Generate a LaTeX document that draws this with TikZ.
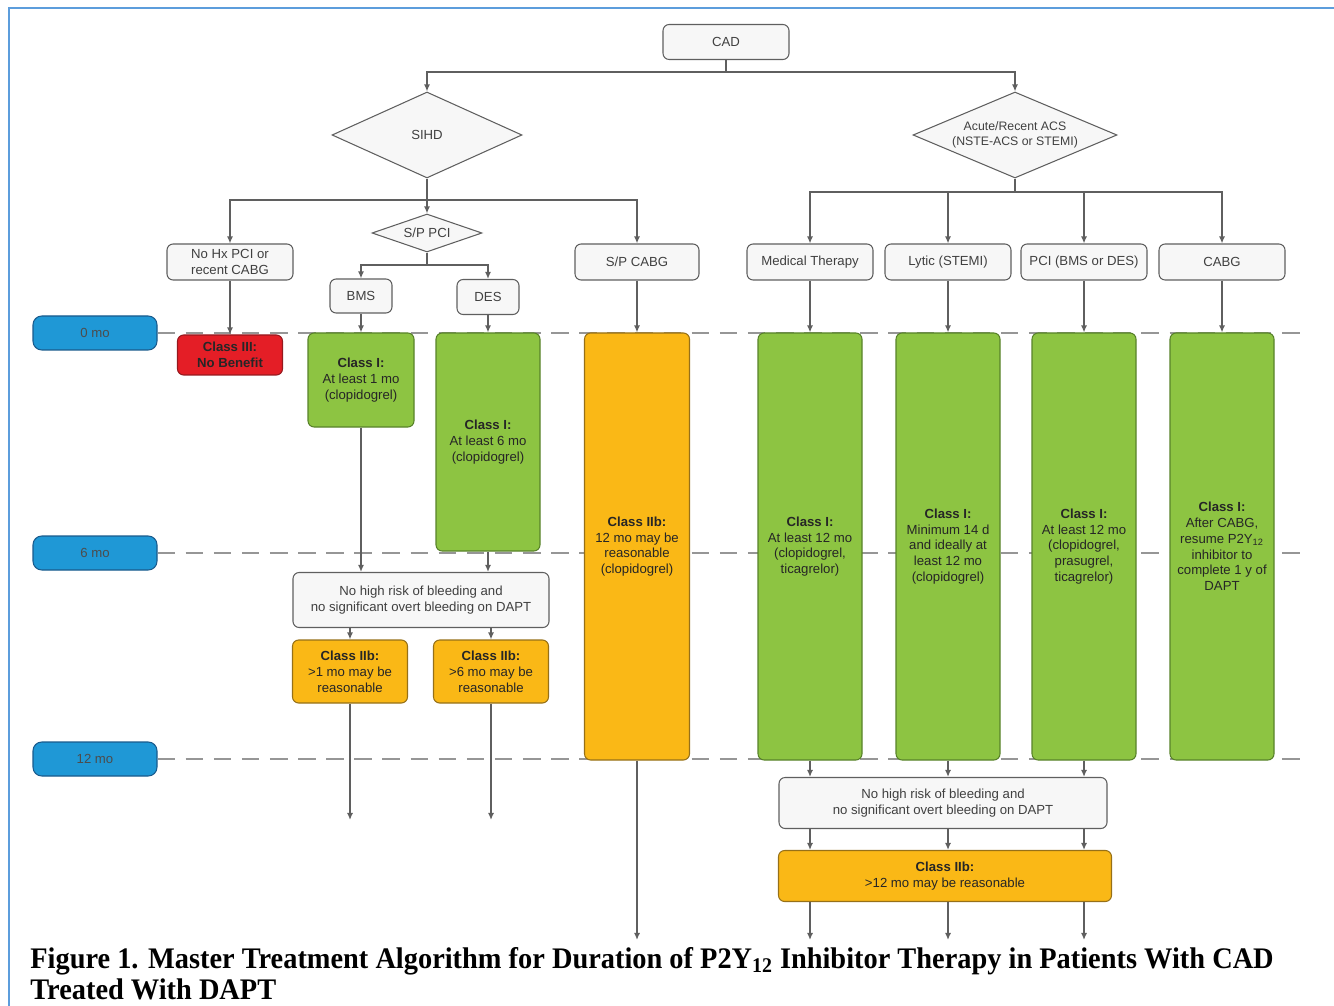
\documentclass[tikz,border=0pt]{standalone}
\usepackage{fontspec}
\setmainfont{Liberation Sans}
\newfontfamily\capfont[FakeStretch=0.95]{Liberation Serif}
\usetikzlibrary{arrows.meta,shapes.geometric,positioning}
\definecolor{boxgray}{RGB}{247,247,247}
\definecolor{edgegray}{RGB}{95,95,95}
\definecolor{classone}{RGB}{141,196,66}
\definecolor{classoneedge}{RGB}{88,130,42}
\definecolor{classtwob}{RGB}{250,184,22}
\definecolor{classtwobedge}{RGB}{150,112,24}
\definecolor{classthree}{RGB}{228,30,38}
\definecolor{classthreeedge}{RGB}{150,25,30}
\definecolor{timeblue}{RGB}{31,152,214}
\definecolor{timeedge}{RGB}{25,90,140}
\definecolor{frameblue}{RGB}{92,157,220}
\definecolor{dashgray}{RGB}{150,150,150}
\newcommand{\timerow}[3]{%
  \node[timebox] (#1) at (95,#2) {#3};%
  \draw[dashgray,line width=1.1pt,dash pattern=on 10pt off 6pt] (#1.east) -- (1310,#2);%
}

\begin{document}
\begin{tikzpicture}[x=0.02cm,y=-0.02cm,
  sz/.style 2 args={minimum width=#1*0.02cm,minimum height=#2*0.02cm},
  base/.style={rounded corners=3.5pt,align=center,inner sep=1pt,line width=0.6pt,
    font=\fontsize{7.5}{9}\selectfont},
  greybox/.style={base,draw=edgegray,fill=boxgray,text=black!75},
  decision/.style={diamond,draw=edgegray,fill=boxgray,text=black!75,align=center,
    inner sep=0pt,line width=0.6pt,font=\fontsize{7.5}{9}\selectfont},
  greenbox/.style={base,draw=classoneedge,fill=classone,text=black!85},
  yellowbox/.style={base,draw=classtwobedge,fill=classtwob,text=black!85},
  redbox/.style={base,draw=classthreeedge,fill=classthree,text=black!85},
  timebox/.style={base,draw=timeedge,fill=timeblue,text=black!70,sz={124}{34},rounded corners=5pt},
  link/.style={edgegray,line width=0.8pt},
  arr/.style={link,-{Latex[length=4pt,width=3.5pt]}}]
  \useasboundingbox (0,0) rectangle (1334,1006);
  \draw[frameblue,line width=1.6pt] (9,1006) -- (9,8) -- (1334,8);

  % time axis
  \timerow{t0}{333}{0 mo}
  \timerow{t6}{553}{6 mo}
  \timerow{t12}{759}{12 mo}

  \node[greybox,sz={126}{35}] (cad) at (726,42) {CAD};
  \coordinate (cadj) at (726,72);
  \node[decision,sz={190}{86},aspect=2.2] (sihd) at (427,135) {SIHD};
  \node[decision,sz={204}{86},aspect=2.37,font=\fontsize{7}{8.5}\selectfont] (acs) at (1015,135)
    {Acute/Recent ACS\\(NSTE-ACS or STEMI)};
  \draw[link] (cad.south) -- (cadj);
  \draw[arr] (cadj) -| (sihd.north);
  \draw[arr] (cadj) -| (acs.north);

  % SIHD branch
  \coordinate (sihdj) at (427,200);
  \node[greybox,sz={126}{36}] (nohx) at (230,262) {No Hx PCI or\\recent CABG};
  \node[decision,sz={110}{38},aspect=2.9] (sppci) at (427,233) {S/P PCI};
  \node[greybox,sz={124}{36}] (spcabg) at (637,262) {S/P CABG};
  \draw[link] (sihd.south) -- (sihdj);
  \draw[arr] (sihdj) -| (nohx.north);
  \draw[arr] (sihdj) -- (sppci.north);
  \draw[arr] (sihdj) -| (spcabg.north);
  \coordinate (ppj) at (427,265);
  \node[greybox,sz={62}{34}] (bms) at (361,296) {BMS};
  \node[greybox,sz={62}{35}] (des) at (488,297) {DES};
  \draw[link] (sppci.south) -- (ppj);
  \draw[arr] (ppj) -| (bms.north);
  \draw[arr] (ppj) -| (des.north);

  \node[redbox,sz={105}{40}] (nobenefit) at (230,355) {\textbf{Class III:}\\\textbf{No Benefit}};
  \node[greenbox,sz={106}{94}] (bmsI) at (361,380) {\textbf{Class I:}\\At least 1 mo\\(clopidogrel)};
  \node[greenbox,sz={104}{218}] (desI) at (488,442) {\textbf{Class I:}\\At least 6 mo\\(clopidogrel)};
  \node[yellowbox,sz={105}{427}] (cabgIIb) at (637,546.5) {\textbf{Class IIb:}\\12 mo may be\\reasonable\\(clopidogrel)};
  \draw[arr] (nohx.south) -- (nobenefit.north);
  \draw[arr] (bms.south) -- (bmsI.north);
  \draw[arr] (des.south) -- (desI.north);
  \draw[arr] (spcabg.south) -- (cabgIIb.north);

  \node[greybox,sz={256}{55}] (bleedL) at (421,600) {No high risk of bleeding and\\no significant overt bleeding on DAPT};
  \node[yellowbox,sz={115}{63}] (iibA) at (350,671.5) {\textbf{Class IIb:}\\>1 mo may be\\reasonable};
  \node[yellowbox,sz={115}{63}] (iibB) at (491,671.5) {\textbf{Class IIb:}\\>6 mo may be\\reasonable};
  \draw[arr] (bmsI.south) -- (bmsI.south |- bleedL.north);
  \draw[arr] (desI.south) -- (desI.south |- bleedL.north);
  \draw[arr] (iibA.north |- bleedL.south) -- (iibA.north);
  \draw[arr] (iibB.north |- bleedL.south) -- (iibB.north);
  \coordinate (endA) at (350,820);
  \coordinate (endB) at (491,820);
  \coordinate (endC) at (637,940);
  \draw[arr] (iibA.south) -- (endA);
  \draw[arr] (iibB.south) -- (endB);
  \draw[arr] (cabgIIb.south) -- (endC);

  % ACS branch
  \coordinate (acsj) at (1015,192);
  \draw[link] (acs.south) -- (acsj);
  \foreach \nm/\cx/\lbl in {med/810/Medical Therapy,lyt/948/Lytic (STEMI),pci/1084/PCI (BMS or DES),cab/1222/CABG} {
    \node[greybox,sz={126}{36}] (\nm) at (\cx,262) {\lbl};
    \draw[arr] (acsj) -| (\nm.north);
  }
  \foreach \nm/\up/\cx/\lbl in {
      medI/med/810/{\textbf{Class I:}\\At least 12 mo\\(clopidogrel,\\ticagrelor)},
      lytI/lyt/948/{\textbf{Class I:}\\Minimum 14 d\\and ideally at\\least 12 mo\\(clopidogrel)},
      pciI/pci/1084/{\textbf{Class I:}\\At least 12 mo\\(clopidogrel,\\prasugrel,\\ticagrelor)},
      cabI/cab/1222/{\textbf{Class I:}\\After CABG,\\resume P2Y\textsubscript{12}\\inhibitor to\\complete 1 y of\\DAPT}} {
    \node[greenbox,sz={104}{427}] (\nm) at (\cx,546.5) {\lbl};
    \draw[arr] (\up.south) -- (\nm.north);
  }

  \node[greybox,sz={328}{51}] (bleedR) at (943,803) {No high risk of bleeding and\\no significant overt bleeding on DAPT};
  \node[yellowbox,sz={333}{51}] (iibR) at (945,876) {\textbf{Class IIb:}\\>12 mo may be reasonable};
  \foreach \nm in {medI,lytI,pciI} {
    \draw[arr] (\nm.south) -- (\nm.south |- bleedR.north);
    \draw[arr] (\nm.south |- bleedR.south) -- (\nm.south |- iibR.north);
    \draw[arr] (\nm.south |- iibR.south) -- (\nm.south |- endC);
  }

  \node[anchor=base west,inner sep=0,font=\capfont\bfseries\fontsize{17}{20}\selectfont] (cap1) at (30,968)
    {Figure 1. Master Treatment Algorithm for Duration of P2Y\textsubscript{12} Inhibitor Therapy in Patients With CAD};
  \node[anchor=base west,inner sep=0,font=\capfont\bfseries\fontsize{17}{20}\selectfont] (cap2) at (30,999)
    {Treated With DAPT};
\end{tikzpicture}
\end{document}
